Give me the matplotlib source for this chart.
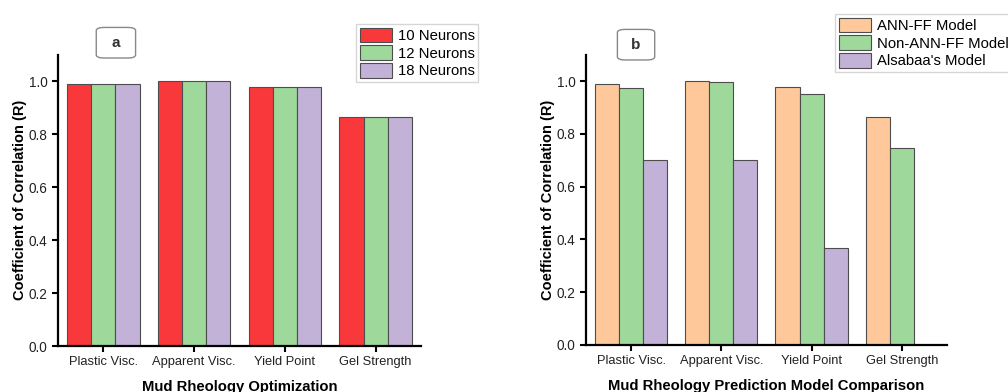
import numpy as np
import matplotlib.pyplot as plt
from matplotlib.patches import FancyBboxPatch

plt.rcParams['font.family'] = ['Liberation Sans', 'DejaVu Sans']

# categories and correlation values
params = ['Plastic Visc.', 'Apparent Visc.', 'Yield Point', 'Gel Strength']

neurons = ['10 Neurons', '12 Neurons', '18 Neurons']
r_10 = [0.989, 1.0, 0.979, 0.863]
r_12 = [0.989, 1.0, 0.979, 0.863]
r_18 = [0.989, 1.0, 0.979, 0.863]

models = ['ANN-FF Model', 'Non-ANN-FF Model', "Alsabaa's Model"]
r_ann = [0.990, 1.0, 0.978, 0.864]
r_nonann = [0.975, 0.997, 0.951, 0.746]
r_alsabaa = [0.70, 0.70, 0.369, np.nan]

colors_a = ['#F9383B', '#9ED89B', '#C2B2D7']
colors_b = ['#FEC89A', '#9ED89B', '#C2B2D7']


def bar_panel(ax, series, names, colors, xlabel):
    x = np.arange(len(params))
    w = 0.8/3
    for i, (vals, name, c) in enumerate(zip(series, names, colors)):
        ax.bar(x + (i-1)*w, vals, w, color=c, edgecolor='#4d4d4d',
               linewidth=0.8, label=name)
    ax.set_xlim(-0.5, 3.5)
    ax.set_ylim(0, 1.1)
    ax.set_xticks(x)
    ax.set_xticklabels(params, fontsize=9.3)
    yt = np.arange(0, 1.01, 0.2)
    ax.set_yticks(yt)
    ax.set_yticklabels(['%.1f' % v for v in yt], fontsize=9.8)
    ax.tick_params(direction='out', length=4, width=1.5, color='black', labelcolor='#222222')
    for s in ['top', 'right']:
        ax.spines[s].set_visible(False)
    for s in ['left', 'bottom']:
        ax.spines[s].set_linewidth(1.6)
    ax.set_xlabel(xlabel, fontsize=10.7, fontweight='bold', labelpad=8)
    ax.set_ylabel('Coefficient of Correlation (R)', fontsize=10.5, fontweight='bold', labelpad=1)
    return ax


fig = plt.figure(figsize=(10.08, 3.92), dpi=100)
ax1 = fig.add_axes([0.0575, 0.1173, 0.3602, 0.7436])
ax2 = fig.add_axes([0.5813, 0.1199, 0.3581, 0.7408])

bar_panel(ax1, [r_10, r_12, r_18], neurons, colors_a, 'Mud Rheology Optimization')
bar_panel(ax2, [r_ann, r_nonann, r_alsabaa], models, colors_b,
          'Mud Rheology Prediction Model Comparison')

# panel tags in rounded boxes
for (x0, y0, w, tag) in [(0.0955, 0.852, 0.039, 'a'), (0.6125, 0.847, 0.037, 'b')]:
    box = FancyBboxPatch((x0, y0), w, 0.078, boxstyle='round,pad=0,rounding_size=0.008',
                         transform=fig.transFigure, facecolor='white',
                         edgecolor='#888888', linewidth=1.0)
    fig.patches.append(box)
    fig.text(x0 + w/2, y0 + 0.039, tag, ha='center', va='center',
             fontsize=11, fontweight='bold', color='#333333')

leg_kw = dict(fontsize=10.7, frameon=True, fancybox=False, handlelength=2.2,
              handleheight=1.15, handletextpad=0.35, labelspacing=0.15,
              borderpad=0.25, borderaxespad=0)
l1 = ax1.legend(loc='upper left', bbox_to_anchor=(356/1008, 1-24/392),
                bbox_transform=fig.transFigure, **leg_kw)
l2 = ax2.legend(loc='upper left', bbox_to_anchor=(835/1008, 1-14/392),
                bbox_transform=fig.transFigure, **leg_kw)
for leg in (l1, l2):
    leg.get_frame().set_edgecolor('#CCCCCC')
    leg.get_frame().set_linewidth(1.0)

fig.savefig('out.png', dpi=100)
